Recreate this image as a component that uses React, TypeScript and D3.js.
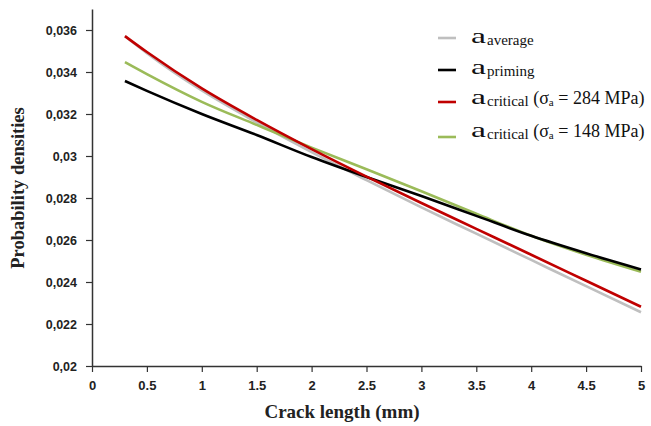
import { useEffect, useRef } from "react";
import * as d3 from "d3";

const crackLength = [0.3, 0.5, 1, 1.5, 2, 2.5, 3, 3.5, 4, 4.5, 5];
const aAverage = [0.0357, 0.0349, 0.03312, 0.0316, 0.03018, 0.02885, 0.02755, 0.0263, 0.02505, 0.0238, 0.02256];
const aPriming = [0.03357, 0.0331, 0.032, 0.031, 0.02995, 0.029, 0.0281, 0.02715, 0.0262, 0.02537, 0.0246];
const aCrit284 = [0.03571, 0.03495, 0.03322, 0.03172, 0.03033, 0.02902, 0.02776, 0.02653, 0.0253, 0.02406, 0.02282];
const aCrit148 = [0.03447, 0.0339, 0.03258, 0.03148, 0.0304, 0.02937, 0.02832, 0.02725, 0.0262, 0.0253, 0.02449];

const xTicks = [0, 0.5, 1, 1.5, 2, 2.5, 3, 3.5, 4, 4.5, 5];
const yTicks = [0.02, 0.022, 0.024, 0.026, 0.028, 0.03, 0.032, 0.034, 0.036];

// drawing order: grey underneath, red on top
const series = [
  { key: "average", values: aAverage, color: "#bfbfbf", sub: "average", rest: "" },
  { key: "148", values: aCrit148, color: "#9bbb59", sub: "critical", rest: "148" },
  { key: "priming", values: aPriming, color: "#000000", sub: "priming", rest: "" },
  { key: "284", values: aCrit284, color: "#c00000", sub: "critical", rest: "284" },
];
const legendOrder = ["average", "priming", "284", "148"];

const width = 651;
const height = 426;
const margin = { top: 9, right: 10, bottom: 60, left: 92 };

export default function App() {
  const gRef = useRef<SVGGElement>(null);

  const x = d3.scaleLinear().domain([0, 5]).range([margin.left, width - margin.right]);
  const y = d3.scaleLinear().domain([0.02, 0.037]).range([height - margin.bottom, margin.top]);

  useEffect(() => {
    const g = d3.select(gRef.current);
    const tickFont = "'Liberation Sans', Arial, sans-serif";

    // y axis, decimal comma like the original
    const yAxis = g.append("g")
      .attr("transform", `translate(${margin.left},0)`)
      .call(d3.axisLeft(y).tickValues(yTicks).tickSize(6).tickPadding(9).tickSizeOuter(0)
        .tickFormat(d => String(+d.valueOf().toFixed(3)).replace(".", ",")));
    yAxis.selectAll("text")
      .attr("font-size", 12.5).attr("font-weight", "bold").attr("font-family", tickFont).attr("fill", "#222");

    // x axis
    const xAxis = g.append("g")
      .attr("transform", `translate(0,${height - margin.bottom})`)
      .call(d3.axisBottom(x).tickValues(xTicks).tickSize(6).tickSizeOuter(0).tickFormat(d => String(d)));
    xAxis.selectAll("text")
      .attr("font-size", 13).attr("font-weight", "bold").attr("font-family", tickFont).attr("fill", "#222")
      .attr("dy", "1.15em");

    [yAxis, xAxis].forEach(ax => {
      ax.select(".domain").attr("stroke", "#333").attr("stroke-width", 1.5);
      ax.selectAll(".tick line").attr("stroke", "#333").attr("stroke-width", 1.2);
    });

    const line = d3.line<number>()
      .x((_, i) => x(crackLength[i]))
      .y(d => y(d))
      .curve(d3.curveMonotoneX);

    g.append("g")
      .selectAll("path")
      .data(series)
      .join("path")
        .attr("d", d => line(d.values))
        .attr("fill", "none")
        .attr("stroke", d => d.color)
        .attr("stroke-width", 2.6);

    return () => { g.selectAll("*").remove(); };
  }, []);

  const serif = "'Liberation Serif', 'Times New Roman', serif";
  const legendLineY = [38, 70, 102, 137];
  const legendTextY = [43, 74, 104, 137];

  return (
    <svg width={width} height={height} style={{ position: "absolute", left: 0, top: 0, background: "#fff" }}>
      <g ref={gRef}></g>
      <text transform={`translate(24,${188}) rotate(-90)`} textAnchor="middle"
        fontFamily={serif} fontWeight="bold" fontSize={18.5} fill="#222">Probability densities</text>
      <text x={342} y={418} textAnchor="middle" fontFamily={serif} fontWeight="bold" fontSize={19} fill="#222">
        Crack length (mm)
      </text>
      {legendOrder.map((k, i) => {
        const s = series.find(d => d.key === k)!;
        return (
          <g key={k}>
            <line x1={438} x2={456} y1={legendLineY[i]} y2={legendLineY[i]} stroke={s.color} strokeWidth={2.6} />
            <text x={471} y={legendTextY[i]} fontFamily={serif} fontSize={21} fill="#111"
              textLength={15} lengthAdjust="spacingAndGlyphs">a</text>
            <text x={487} y={legendTextY[i] + 2} fontFamily={serif} fill="#111">
              <tspan fontSize={15}>{s.sub}</tspan>
              {s.rest && (
                <>
                  <tspan fontSize={18} dy={-2}> (σ</tspan>
                  <tspan fontSize={11} dy={2}>a</tspan>
                  <tspan fontSize={18} dy={-2}> = {s.rest} MPa)</tspan>
                </>
              )}
            </text>
          </g>
        );
      })}
    </svg>
  );
}
